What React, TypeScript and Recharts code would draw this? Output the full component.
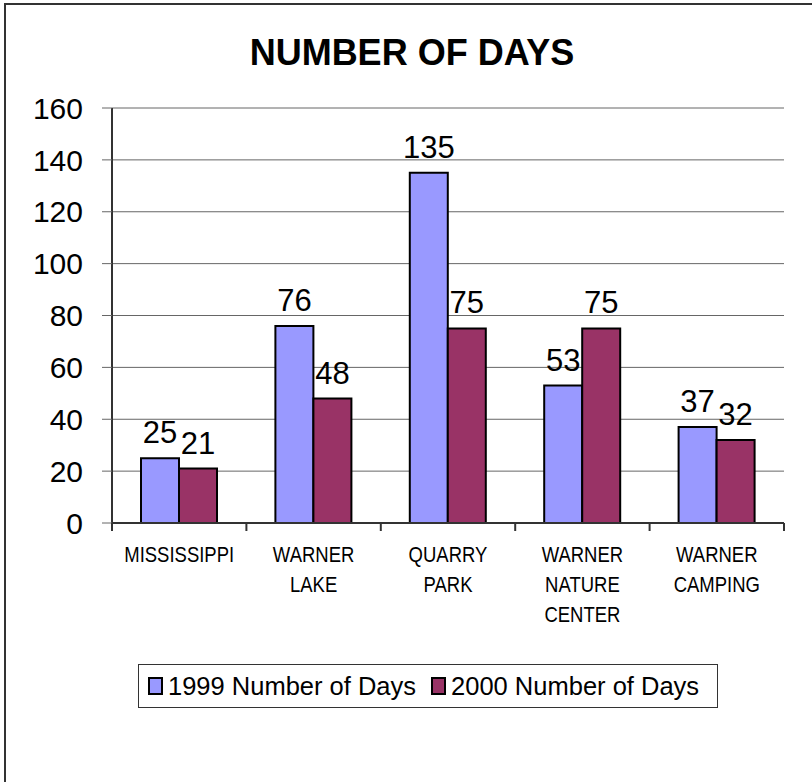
import { Bar, BarChart, CartesianGrid, LabelList, Legend, XAxis, YAxis } from 'recharts';

const categories = [
  'MISSISSIPPI',
  'WARNER\nLAKE',
  'QUARRY\nPARK',
  'WARNER\nNATURE\nCENTER',
  'WARNER\nCAMPING',
];
const days1999 = [25, 76, 135, 53, 37];
const days2000 = [21, 48, 75, 75, 32];
const yTicks = [0, 20, 40, 60, 80, 100, 120, 140, 160];

const seriesNames = ['1999 Number of Days', '2000 Number of Days'];
const colors = ['#9999FF', '#993366'];

const FONT = '"Liberation Sans", Arial, sans-serif';
const AXIS_Y = 523;

// category label plus the tick marks that sit on the category edges
function CategoryTick({ x, payload, index, visibleTicksCount }: any) {
  const lines = String(payload.value).split('\n');
  const half = payload.offset ?? 67.2;
  const isLast = index === visibleTicksCount - 1;
  return (
    <g>
      <line x1={x - half} x2={x - half} y1={AXIS_Y} y2={AXIS_Y + 8} stroke="#333" strokeWidth={2} />
      {isLast && (
        <line x1={x + half} x2={x + half} y1={AXIS_Y} y2={AXIS_Y + 8} stroke="#333" strokeWidth={2} />
      )}
      <g transform={`translate(${x},${AXIS_Y}) scale(0.86,1)`}>
        <text textAnchor="middle" fontSize={21.5} fill="#000" fontFamily={FONT}>
          {lines.map((line: string, i: number) => (
            <tspan key={i} x={0} y={39 + i * 30}>
              {line}
            </tspan>
          ))}
        </text>
      </g>
    </g>
  );
}

function LegendBox() {
  return (
    <div
      style={{
        boxSizing: 'border-box',
        height: 44,
        border: '1px solid #333',
        display: 'flex',
        alignItems: 'center',
        paddingLeft: 9,
        fontFamily: FONT,
        fontSize: 25.5,
        color: '#000',
        whiteSpace: 'nowrap',
        background: '#fff',
      }}
    >
      {seriesNames.map((name, i) => (
        <span key={name} style={{ display: 'flex', alignItems: 'center', marginRight: 15 }}>
          <span
            style={{
              display: 'inline-block',
              boxSizing: 'border-box',
              width: 15,
              height: 18,
              background: colors[i],
              border: '2px solid #000',
              marginRight: 5,
            }}
          />
          {name}
        </span>
      ))}
    </div>
  );
}

export default function App() {
  const data = categories.map((name, i) => ({
    name,
    y1999: days1999[i],
    y2000: days2000[i],
  }));

  return (
    <div
      style={{
        position: 'absolute',
        left: 0,
        top: 0,
        width: 812,
        height: 782,
        overflow: 'hidden',
        background: '#fff',
      }}
    >
      <div
        style={{
          position: 'absolute',
          left: 4,
          top: 3,
          width: 900,
          height: 900,
          borderLeft: '2px solid #333',
          borderTop: '2px solid #333',
        }}
      />
      <div
        style={{
          position: 'absolute',
          left: 0,
          top: 32,
          width: 824,
          textAlign: 'center',
          fontFamily: FONT,
          fontWeight: 'bold',
          fontSize: 36,
          color: '#000',
        }}
      >
        NUMBER OF DAYS
      </div>
      <div style={{ position: 'absolute', left: 0, top: 0 }}>
        <BarChart
          width={812}
          height={782}
          data={data}
          margin={{ top: 108, right: 28, bottom: 115, left: 0 }}
          barGap={0}
        >
          <CartesianGrid vertical={false} stroke="#666" />
          <XAxis
            dataKey="name"
            height={100}
            interval={0}
            tickLine={false}
            axisLine={{ stroke: '#333', strokeWidth: 2 }}
            tick={<CategoryTick />}
          />
          <YAxis
            width={112}
            domain={[0, 160]}
            ticks={yTicks}
            interval={0}
            tickSize={10}
            tickMargin={19}
            axisLine={{ stroke: '#333', strokeWidth: 2 }}
            tickLine={{ stroke: '#666' }}
            tick={{ fill: '#000', fontSize: 30, fontFamily: FONT }}
          />
          <YAxis
            yAxisId="r"
            orientation="right"
            width={0}
            tick={false}
            tickLine={false}
            axisLine={{ stroke: '#555', strokeWidth: 2 }}
          />
          <Legend
            verticalAlign="bottom"
            content={<LegendBox />}
            wrapperStyle={{ left: 138, top: 664, width: 580, height: 44 }}
          />
          <Bar
            dataKey="y1999"
            name={seriesNames[0]}
            fill={colors[0]}
            stroke="#000"
            strokeWidth={2}
            barSize={38}
            isAnimationActive={false}
          >
            <LabelList
              dataKey="y1999"
              position="top"
              offset={15}
              fill="#000"
              fontSize={31}
              fontFamily={FONT}
            />
          </Bar>
          <Bar
            dataKey="y2000"
            name={seriesNames[1]}
            fill={colors[1]}
            stroke="#000"
            strokeWidth={2}
            barSize={38}
            isAnimationActive={false}
          >
            <LabelList
              dataKey="y2000"
              position="top"
              offset={15}
              fill="#000"
              fontSize={31}
              fontFamily={FONT}
            />
          </Bar>
        </BarChart>
      </div>
    </div>
  );
}
